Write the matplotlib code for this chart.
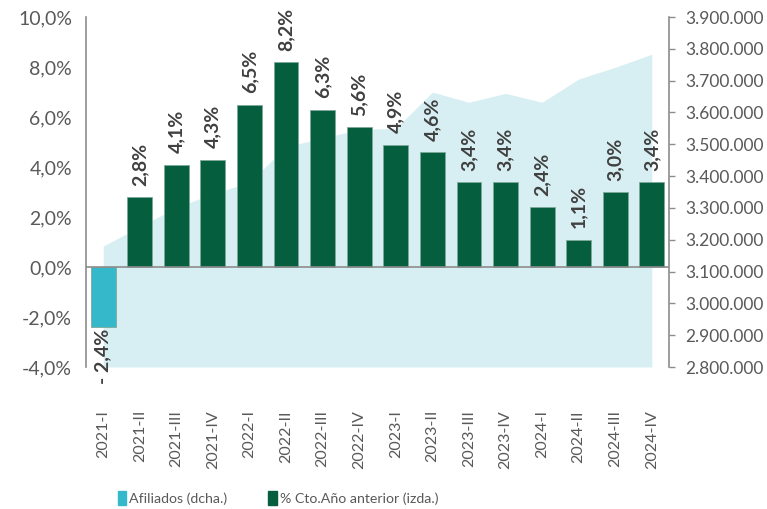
import matplotlib
matplotlib.use('Agg')
import matplotlib.pyplot as plt
from matplotlib.patches import Patch
from matplotlib.ticker import FuncFormatter, MultipleLocator

plt.rcParams['font.family'] = ['Lato', 'DejaVu Sans']

# datos
periodos = ['2021-I', '2021-II', '2021-III', '2021-IV',
            '2022-I', '2022-II', '2022-III', '2022-IV',
            '2023-I', '2023-II', '2023-III', '2023-IV',
            '2024-I', '2024-II', '2024-III', '2024-IV']
crecimiento = [-2.4, 2.8, 4.1, 4.3, 6.5, 8.2, 6.3, 5.6,
               4.9, 4.6, 3.4, 3.4, 2.4, 1.1, 3.0, 3.4]
afiliados = [3180000, 3241000, 3301000, 3345000, 3380000, 3493000, 3519000, 3547000,
             3550000, 3664000, 3632000, 3660000, 3632000, 3705000, 3742000, 3783000]

VERDE = '#055e3d'
TURQUESA = '#35b8ca'
AREA = '#d7eff3'
GRIS = '#595959'
EJE = '#8c8c8c'

fig = plt.figure(figsize=(7.67, 5.09), dpi=100)
ax = fig.add_axes([86/767, 1-367/509, (669-86)/767, 350/509])
ax2 = ax.twinx()

x = list(range(len(periodos)))

# area de afiliados (eje derecho)
ax2.fill_between(x, afiliados, 2800000, color=AREA, linewidth=0)
ax2.set_ylim(2800000, 3900000)
ax2.yaxis.set_major_locator(MultipleLocator(100000))
ax2.yaxis.set_major_formatter(FuncFormatter(lambda v, p: f'{int(v):,}'.replace(',', '.')))

# barras de crecimiento (eje izquierdo)
ax.set_zorder(ax2.get_zorder() + 1)
ax.patch.set_visible(False)
colores = [TURQUESA if v < 0 else VERDE for v in crecimiento]
ax.bar(x, crecimiento, width=0.68, color=colores, edgecolor='#7fa99a', linewidth=0.6, zorder=3)
ax.axhline(0, color=EJE, linewidth=1.2, zorder=4)

for xi, v in zip(x, crecimiento):
    txt = f'{v:.1f}%'.replace('.', ',')
    if v < 0:
        txt = '- ' + txt.replace('-', '')
        ax.annotate(txt, (xi, v), xytext=(0, -1), textcoords='offset points',
                    rotation=90, ha='center', va='top', fontsize=14,
                    fontweight='bold', color='#404040', annotation_clip=False)
    else:
        ax.annotate(txt, (xi, v), xytext=(0, 8), textcoords='offset points',
                    rotation=90, ha='center', va='bottom', fontsize=14,
                    fontweight='bold', color='#404040')

ax.set_ylim(-4, 10)
ax.set_xlim(-0.47, 15.47)
ax.yaxis.set_major_locator(MultipleLocator(2))
ax.yaxis.set_major_formatter(FuncFormatter(lambda v, p: f'{v:.1f}%'.replace('.', ',')))
ax.set_xticks(x)
ax.set_xticklabels(periodos, rotation=90, va='top', ha='center')

ax.tick_params(axis='x', length=0, pad=31, labelsize=11.5, labelcolor=GRIS)
ax.tick_params(axis='y', length=0, pad=10, labelsize=14, labelcolor=GRIS)
ax2.tick_params(axis='y', length=4, width=1, color=EJE, pad=8, labelsize=12.5, labelcolor=GRIS)

for s in ['top', 'bottom', 'right']:
    ax.spines[s].set_visible(False)
for s in ['top', 'bottom', 'left']:
    ax2.spines[s].set_visible(False)
ax.spines['left'].set_color(EJE)
ax2.spines['right'].set_color(EJE)
ax2.spines['right'].set_linewidth(1.2)
ax.spines['left'].set_linewidth(1.2)

handles = [Patch(color=TURQUESA, label='Afiliados (dcha.)'),
           Patch(color=VERDE, label='% Cto.Año anterior (izda.)')]
fig.legend(handles=handles, loc='center left', bbox_to_anchor=(105/767, 1-498/509),
           ncol=2, frameon=False, fontsize=10.2, labelcolor=GRIS,
           handlelength=0.6, handleheight=1.2, handletextpad=0.2, columnspacing=2.9)

fig.savefig('out.png', dpi=100)
